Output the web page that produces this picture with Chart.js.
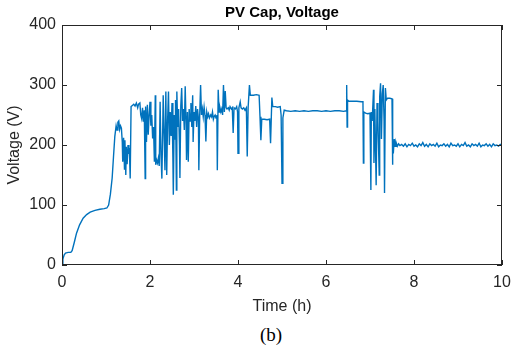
<!doctype html>
<html lang="en">
  <head>
    <meta charset="utf-8">
    <title>PV Cap, Voltage</title>
    <style>
      * { margin: 0; padding: 0; }
      body { background: #fff; }
      .wrap { position: relative; width: 511px; height: 349px; background: #fff; }
      .caption {
        position: absolute; left: 0; top: 324px; width: 542px;
        text-align: center; font-family: "Liberation Serif", serif;
        font-size: 19px; line-height: 22px; color: #000;
      }
    </style>
  </head>
  <body>
    <div class="wrap">
      <canvas id="pv" width="511" height="320"></canvas>
      <div class="caption">(b)</div>
    </div>
    <script src="https://cdn.jsdelivr.net/npm/chart.js"></script>
    <script>
    // time (h) and capacitor voltage (V)
    const hours = [
      0, 0.02, 0.05, 0.08, 0.14, 0.2, 0.23, 0.28, 0.33, 0.4,
      0.48, 0.56, 0.64, 0.75, 0.86, 0.96, 1.02, 1.06, 1.1, 1.14,
      1.17, 1.2, 1.23, 1.25, 1.27, 1.29, 1.31, 1.33, 1.35, 1.37,
      1.38, 1.4, 1.42, 1.43, 1.45, 1.46, 1.48, 1.5, 1.52, 1.53,
      1.55, 1.57, 1.6, 1.63, 1.66, 1.69, 1.72, 1.74, 1.77, 1.79,
      1.81, 1.83, 1.85, 1.87, 1.89, 1.9, 1.92, 1.94, 1.96, 1.98,
      2.0, 2.02, 2.04, 2.06, 2.08, 2.1, 2.12, 2.13, 2.15, 2.17,
      2.19, 2.21, 2.23, 2.25, 2.27, 2.29, 2.3, 2.32, 2.34, 2.36,
      2.38, 2.4, 2.42, 2.44, 2.46, 2.48, 2.5, 2.52, 2.53, 2.55,
      2.57, 2.58, 2.6, 2.61, 2.63, 2.65, 2.67, 2.68, 2.7, 2.72,
      2.74, 2.76, 2.78, 2.8, 2.82, 2.83, 2.85, 2.87, 2.89, 2.91,
      2.93, 2.95, 2.97, 2.98, 3.0, 3.02, 3.04, 3.06, 3.08, 3.1,
      3.11, 3.13, 3.15, 3.17, 3.19, 3.21, 3.23, 3.25, 3.27, 3.29,
      3.31, 3.33, 3.35, 3.38, 3.4, 3.42, 3.44, 3.46, 3.48, 3.5,
      3.52, 3.53, 3.55, 3.57, 3.59, 3.61, 3.63, 3.65, 3.67, 3.69,
      3.71, 3.73, 3.75, 3.78, 3.8, 3.82, 3.85, 3.87, 3.89, 3.91,
      3.94, 3.97, 3.99, 4.0, 4.02, 4.05, 4.07, 4.1, 4.13, 4.16,
      4.19, 4.21, 4.23, 4.26, 4.28, 4.35, 4.42, 4.48, 4.5, 4.52,
      4.54, 4.6, 4.66, 4.72, 4.74, 4.77, 4.79, 4.85, 4.9, 4.96,
      4.98, 5.0, 5.02, 5.05, 5.1, 5.2, 5.3, 5.4, 5.5, 5.6,
      5.7, 5.8, 5.9, 6.0, 6.1, 6.2, 6.3, 6.4, 6.46, 6.47,
      6.48, 6.49, 6.52, 6.6, 6.7, 6.8, 6.84, 6.85, 6.86, 6.9,
      6.95, 7.0, 7.02, 7.03, 7.05, 7.08, 7.09, 7.11, 7.14, 7.16,
      7.18, 7.21, 7.22, 7.24, 7.26, 7.28, 7.3, 7.32, 7.33, 7.35,
      7.37, 7.4, 7.45, 7.5, 7.51, 7.52, 7.53, 7.55, 7.57, 7.59,
      7.62, 7.65, 7.68, 7.72, 7.76, 7.8, 7.84, 7.88, 7.92, 7.96,
      8.0, 8.04, 8.08, 8.12, 8.16, 8.2, 8.24, 8.28, 8.32, 8.36,
      8.4, 8.44, 8.48, 8.52, 8.56, 8.6, 8.64, 8.68, 8.72, 8.76,
      8.8, 8.84, 8.88, 8.92, 8.96, 9.0, 9.04, 9.08, 9.12, 9.16,
      9.2, 9.24, 9.28, 9.32, 9.36, 9.4, 9.44, 9.48, 9.52, 9.56,
      9.6, 9.64, 9.68, 9.72, 9.76, 9.8, 9.84, 9.88, 9.92, 9.96,
      10
    ];
    const volts = [
      0, 10, 17, 20, 21, 21, 24, 38, 53, 67,
      78, 84, 88, 91, 93, 94, 95, 100, 118, 145,
      180, 214, 232, 225, 238, 240, 226, 232, 228, 205,
      172, 212, 160, 208, 150, 197, 168, 200, 185, 195,
      144, 264, 266, 268, 265, 270, 262, 268, 270, 250,
      244, 262, 239, 258, 144, 264, 205, 267, 217, 250,
      272, 232, 250, 211, 230, 172, 283, 167, 175, 170,
      178, 165, 272, 183, 144, 230, 283, 220, 158, 289,
      150, 240, 289, 200, 255, 215, 270, 180, 117, 250,
      210, 275, 125, 289, 230, 260, 200, 145, 265, 295,
      240, 260, 225, 298, 235, 175, 255, 172, 260, 240,
      270, 230, 283, 205, 255, 240, 265, 230, 260, 245,
      158, 250, 300, 250, 260, 247, 263, 250, 206, 255,
      247, 252, 245, 250, 247, 255, 243, 248, 250, 245,
      250, 158, 292, 255, 262, 255, 260, 250, 300, 255,
      290, 262, 260, 262, 258, 264, 260, 262, 220, 262,
      260, 264, 255, 186, 262, 272, 262, 260, 262, 258,
      262, 181, 262, 300, 283, 283, 284, 283, 247, 208,
      243, 243, 242, 243, 203, 279, 264, 264, 263, 264,
      250, 136, 245, 258, 257, 256, 257, 256, 257, 256,
      257, 257, 256, 257, 256, 257, 257, 256, 257, 300,
      230, 275, 273, 273, 273, 272, 272, 170, 255, 253,
      252, 253, 125, 255, 240, 292, 170, 260, 133, 270,
      240, 150, 280, 303, 210, 285, 300, 240, 120, 295,
      275, 278, 278, 277, 167, 208, 186, 210, 198, 205,
      198, 202, 199, 201, 198, 202, 197, 201, 199, 203,
      198, 200, 197, 202, 199, 204, 198, 201, 197, 202,
      199, 201, 198, 203, 197, 200, 199, 202, 198, 201,
      197, 203, 199, 200, 198, 202, 197, 201, 199, 204,
      198, 200, 197, 202, 199, 201, 198, 203, 197, 200,
      199, 202, 198, 201, 197, 202, 199, 200, 198, 201,
      199
    ];
    const xTicks = [0, 2, 4, 6, 8, 10];
    const yTicks = [0, 100, 200, 300, 400];

    const axisColor = '#262626';

    // MATLAB style box with inward ticks
    const boxPlugin = {
      id: 'box',
      afterDatasetsDraw(chart) {
        const { ctx, chartArea: a, scales: { x, y } } = chart;
        ctx.save();
        ctx.strokeStyle = axisColor;
        ctx.lineWidth = 1;
        ctx.strokeRect(a.left + 0.5, a.top + 0.5, a.right - a.left - 1, a.bottom - a.top - 1);
        ctx.beginPath();
        xTicks.forEach(v => {
          const px = Math.round(x.getPixelForValue(v)) + 0.5;
          ctx.moveTo(px, a.bottom); ctx.lineTo(px, a.bottom - 5);
          ctx.moveTo(px, a.top); ctx.lineTo(px, a.top + 5);
        });
        yTicks.forEach(v => {
          const py = Math.round(y.getPixelForValue(v)) + 0.5;
          ctx.moveTo(a.left, py); ctx.lineTo(a.left + 5, py);
          ctx.moveTo(a.right, py); ctx.lineTo(a.right - 5, py);
        });
        ctx.stroke();
        ctx.restore();
      }
    };

    const points = hours.map((h, i) => ({ x: h, y: volts[i] }));

    new Chart(document.getElementById('pv'), {
      type: 'line',
      data: {
        datasets: [{
          data: points,
          borderColor: '#0072BD',
          borderWidth: 1.4,
          pointRadius: 0,
          tension: 0,
          fill: false
        }]
      },
      options: {
        responsive: false,
        animation: false,
        devicePixelRatio: 1,
        layout: { padding: { right: 9 } },
        plugins: {
          legend: { display: false },
          tooltip: { enabled: false },
          title: {
            display: true,
            text: 'PV Cap, Voltage',
            fullSize: false,
            color: '#000',
            font: { family: 'Liberation Sans', size: 15, weight: 'bold', lineHeight: 1.2 },
            padding: { top: 4, bottom: 3 }
          }
        },
        scales: {
          x: {
            type: 'linear',
            min: 0, max: 10,
            afterBuildTicks: s => { s.ticks = xTicks.map(v => ({ value: v })); },
            afterFit: s => { s.height = 55; s.paddingLeft = 0; s.paddingRight = 0; },
            grid: { display: false, drawTicks: false },
            border: { display: false },
            ticks: { color: axisColor, padding: 8, font: { family: 'Liberation Sans', size: 16 } },
            title: {
              display: true, text: 'Time (h)', color: axisColor,
              font: { family: 'Liberation Sans', size: 16, lineHeight: 1.2 },
              padding: { top: 0, bottom: 4 }
            }
          },
          y: {
            min: 0, max: 400,
            afterBuildTicks: s => { s.ticks = yTicks.map(v => ({ value: v })); },
            afterFit: s => { s.width = 62; s.paddingTop = 0; s.paddingBottom = 0; },
            grid: { display: false, drawTicks: false },
            border: { display: false },
            ticks: { color: axisColor, padding: 6, font: { family: 'Liberation Sans', size: 16 } },
            title: {
              display: true, text: 'Voltage (V)', color: axisColor,
              font: { family: 'Liberation Sans', size: 16, lineHeight: 1.2 },
              padding: { top: 5, bottom: 0 }
            }
          }
        }
      },
      plugins: [boxPlugin]
    });
    </script>
  </body>
</html>
